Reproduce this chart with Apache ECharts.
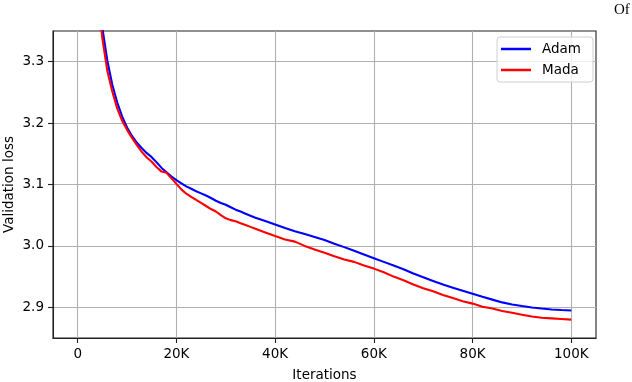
<!DOCTYPE html>
<html>
<head>
<meta charset="utf-8">
<title>Validation loss</title>
<script src="https://cdn.jsdelivr.net/npm/echarts@6/dist/echarts.min.js"></script>
<style>
  html, body { margin: 0; padding: 0; background: #fff; }
  #main { width: 632px; height: 382px; }
</style>
</head>
<body>
<div id="main"></div>
<script>
// iterations (in steps)
var iterations = [
  4000, 5000, 6000, 7000, 8000, 9000, 10000, 11000, 12000, 13000, 14000, 15000,
  16000, 17000, 18000, 19000, 20000, 21000, 22000, 23000, 24000, 25000, 26000,
  27000, 28000, 29000, 30000, 31000, 32000, 33000, 34000, 35000, 36000,
  38000, 40000, 42000, 44000, 46000, 48000, 50000, 52000, 54000, 56000, 58000,
  60000, 62000, 64000, 66000, 68000, 70000, 72000, 74000, 76000, 78000, 80000,
  82000, 84000, 86000, 88000, 90000, 92000, 94000, 96000, 98000, 100000
];
var adamLoss = [
  3.420, 3.355, 3.302, 3.263, 3.234, 3.211, 3.193, 3.179, 3.168, 3.159, 3.151, 3.1445,
  3.136, 3.127, 3.120, 3.113, 3.107, 3.102, 3.097, 3.093, 3.089, 3.0855, 3.082,
  3.078, 3.0735, 3.070, 3.067, 3.063, 3.059, 3.056, 3.0525, 3.049, 3.046,
  3.0405, 3.035, 3.029, 3.024, 3.0195, 3.0145, 3.0095, 3.0035, 2.998, 2.992, 2.986,
  2.980, 2.974, 2.968, 2.962, 2.955, 2.949, 2.943, 2.937, 2.932, 2.927, 2.922,
  2.917, 2.9125, 2.908, 2.9045, 2.902, 2.8998, 2.898, 2.8965, 2.8955, 2.8948
];
var madaLoss = [
  3.410, 3.338, 3.285, 3.252, 3.224, 3.204, 3.189, 3.176, 3.164, 3.153, 3.144, 3.137,
  3.128, 3.121, 3.119, 3.110, 3.101, 3.092, 3.085, 3.080, 3.075, 3.070, 3.065,
  3.060, 3.056, 3.050, 3.045, 3.042, 3.040, 3.037, 3.034, 3.031, 3.028,
  3.022, 3.016, 3.0105, 3.007, 3.000, 2.994, 2.989, 2.983, 2.978, 2.974, 2.968,
  2.963, 2.957, 2.950, 2.944, 2.937, 2.931, 2.926, 2.920, 2.915, 2.910, 2.906,
  2.901, 2.898, 2.894, 2.891, 2.888, 2.885, 2.883, 2.882, 2.881, 2.880
];
var xTicks = [0, 20000, 40000, 60000, 80000, 100000];
var yTicks = [2.9, 3.0, 3.1, 3.2, 3.3];

function pairs(xs, ys) {
  var out = [];
  for (var i = 0; i < xs.length; i++) out.push([xs[i], ys[i]]);
  return out;
}

var font = 'DejaVu Sans';
var chart = echarts.init(document.getElementById('main'), null, { renderer: 'canvas' });

var option = {
  animation: false,
  backgroundColor: '#fff',
  textStyle: { fontFamily: font, color: '#000' },
  grid: {
    left: 53, right: 36, top: 31, bottom: 44,
    outerBoundsMode: 'none', containLabel: false,
    show: true, borderColor: '#222', borderWidth: 1.1, backgroundColor: 'transparent'
  },
  graphic: [{
    type: 'text', left: 614, top: 3,
    style: { text: 'Of', font: '15px "Liberation Serif"', fill: '#000' }
  }],
  legend: {
    orient: 'vertical',
    right: 39, top: 37,
    icon: 'rect',
    itemWidth: 30, itemHeight: 2.5,
    itemGap: 5,
    padding: [4, 12, 4, 4],
    backgroundColor: 'rgba(255,255,255,0.8)',
    borderColor: '#d0d0d0', borderWidth: 1, borderRadius: 3,
    textStyle: { fontFamily: font, fontSize: 13.5, color: '#000', lineHeight: 16, padding: [0, 0, 0, 6] },
    data: ['Adam', 'Mada']
  },
  xAxis: {
    type: 'value',
    min: -5000, max: 105000,
    name: 'Iterations', nameLocation: 'middle', nameGap: 30, nameMoveOverlap: false,
    nameTextStyle: { fontFamily: font, fontSize: 13.5, color: '#000' },
    axisLine: { show: true, onZero: false, lineStyle: { color: '#222', width: 1.1 } },
    axisTick: { show: true, inside: false, length: 5, customValues: xTicks, lineStyle: { color: '#222', width: 1.1 } },
    axisLabel: {
      customValues: xTicks, margin: 9, fontFamily: font, fontSize: 13.5, color: '#000',
      formatter: function (v) { return v === 0 ? '0' : (v / 1000) + 'K'; }
    },
    splitLine: { show: true, lineStyle: { color: '#b0b0b0', width: 1.1 } }
  },
  yAxis: {
    type: 'value',
    min: 2.85, max: 3.35,
    name: 'Validation loss', nameLocation: 'middle', nameGap: 37, nameMoveOverlap: false,
    nameTextStyle: { fontFamily: font, fontSize: 13.5, color: '#000' },
    axisLine: { show: true, onZero: false, lineStyle: { color: '#222', width: 1.1 } },
    axisTick: { show: true, inside: false, length: 5, customValues: yTicks, lineStyle: { color: '#222', width: 1.1 } },
    axisLabel: {
      customValues: yTicks, margin: 9, fontFamily: font, fontSize: 13.5, color: '#000',
      formatter: function (v) { return v.toFixed(1); }
    },
    splitLine: { show: true, lineStyle: { color: '#b0b0b0', width: 1.1 } }
  },
  series: [
    {
      name: 'Adam', type: 'line', data: pairs(iterations, adamLoss),
      showSymbol: false, clip: true, smooth: false,
      itemStyle: { color: '#0000ff' },
      lineStyle: { color: '#0000ff', width: 2.1 }
    },
    {
      name: 'Mada', type: 'line', data: pairs(iterations, madaLoss),
      showSymbol: false, clip: true, smooth: false,
      itemStyle: { color: '#ff0000' },
      lineStyle: { color: '#ff0000', width: 2.1 }
    }
  ]
};

chart.setOption(option);
</script>
</body>
</html>
